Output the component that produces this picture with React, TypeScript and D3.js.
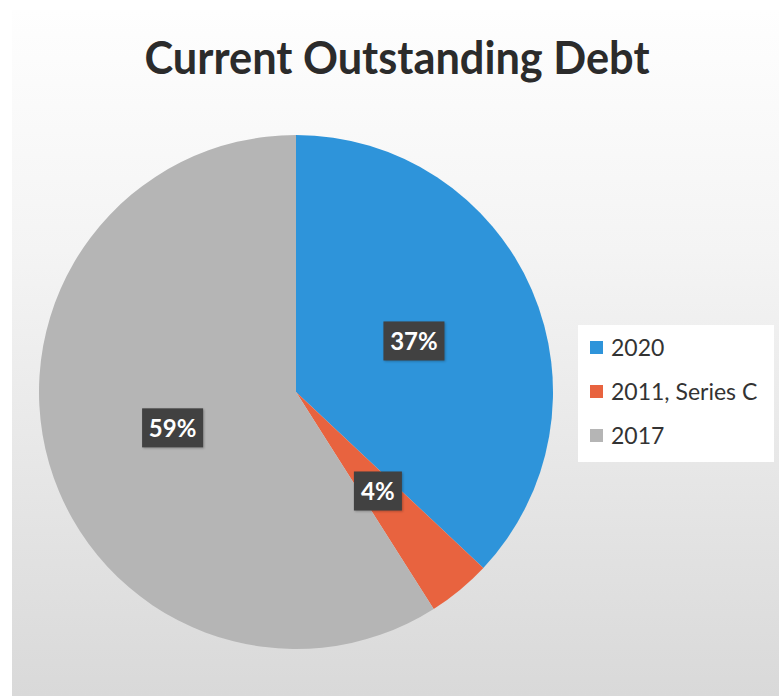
import React from "react";
import * as d3 from "d3";

const categories = ["2020", "2011, Series C", "2017"];
const values = [37, 4, 59];
const labels = ["37%", "4%", "59%"];
const colors = ["#2E94DA", "#E8633F", "#B5B5B5"];

const W = 779;
const H = 696;

export default function App() {
  const cx = 296;
  const cy = 392;
  const R = 257;
  const pie = d3.pie<number>().sort(null).value((d) => d);
  const arcs = pie(values);
  const arc = d3.arc<d3.PieArcDatum<number>>().innerRadius(0).outerRadius(R);
  const font = "Lato, 'Open Sans', sans-serif";
  const legendY = d3.scalePoint<string>().domain(categories).range([348, 436]);
  return (
    <svg
      width={W}
      height={H}
      style={{ position: "absolute", left: 0, top: 0, display: "block" }}
    >
      <defs>
        <linearGradient id="bg" x1="0" y1="0" x2="0" y2="1">
          <stop offset="0" stopColor="#FEFEFE" />
          <stop offset="0.35" stopColor="#F4F4F4" />
          <stop offset="1" stopColor="#D9D9D9" />
        </linearGradient>
        <filter id="sh" x="-20%" y="-20%" width="140%" height="140%">
          <feGaussianBlur stdDeviation="1.2" />
        </filter>
      </defs>
      <rect x={0} y={0} width={W} height={H} fill="#FFFFFF" />
      <rect x={12} y={10} width={W - 12} height={H - 10} fill="url(#bg)" />
      <text
        x={397}
        y={74}
        textAnchor="middle"
        fontFamily={font}
        fontWeight={700}
        fontSize={46}
        fill="#2B2B2B"
        textLength={505}
        lengthAdjust="spacingAndGlyphs"
      >
        Current Outstanding Debt
      </text>
      <g transform={`translate(${cx},${cy})`}>
        {arcs.map((a, i) => (
          <path key={i} d={arc(a) || ""} fill={colors[i]} />
        ))}
        {arcs.map((a, i) => {
          const [x, y] = arc.centroid(a);
          const w = labels[i].length > 2 ? 61 : 48;
          const h = 39;
          return (
            <g key={"l" + i} transform={`translate(${x},${y})`}>
              <rect
                x={-w / 2 + 1}
                y={-h / 2 + 1}
                width={w}
                height={h}
                fill="#000"
                opacity={0.25}
                filter="url(#sh)"
              />
              <rect x={-w / 2} y={-h / 2} width={w} height={h} fill="#414141" />
              <text
                x={0}
                y={9}
                textAnchor="middle"
                fontFamily={font}
                fontWeight={700}
                fontSize={24}
                fill="#FFFFFF"
              >
                {labels[i]}
              </text>
            </g>
          );
        })}
      </g>
      <rect x={578} y={325} width={196} height={137} fill="#FFFFFF" />
      {categories.map((c, i) => (
        <g key={"lg" + i} transform={`translate(590,${legendY(c)})`}>
          <rect x={0} y={-7} width={13} height={13} fill={colors[i]} />
          <text
            x={21}
            y={8}
            fontFamily={font}
            fontSize={23}
            fill="#333333"
          >
            {c}
          </text>
        </g>
      ))}
    </svg>
  );
}
